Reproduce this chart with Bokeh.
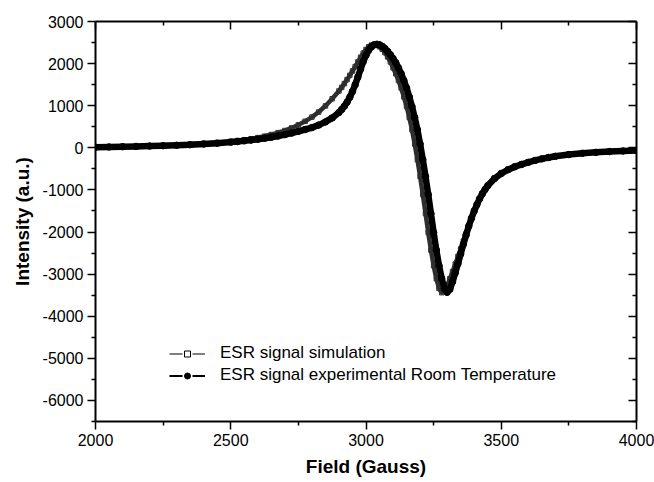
import numpy as np
from bokeh.plotting import figure
from bokeh.models import (Range1d, LinearAxis, FixedTicker, Legend, LegendItem,
                          ColumnDataSource, CustomJSTickFormatter)
from bokeh.embed import file_html
from bokeh.resources import INLINE

# ---------------- data ----------------
field = [2000, 2050, 2100, 2150, 2200, 2250, 2300, 2350, 2400, 2450, 2500,
         2525, 2550, 2575, 2600, 2625, 2650, 2675, 2700, 2725, 2750, 2775, 2800, 2825, 2850, 2875,
         2900, 2910, 2920, 2930, 2940, 2950, 2960, 2970, 2980, 2990,
         3000, 3010, 3020, 3030, 3040, 3050, 3060, 3070, 3080, 3090,
         3100, 3110, 3120, 3130, 3140, 3150, 3160, 3170, 3180, 3190,
         3200, 3210, 3220, 3230, 3240, 3250, 3260, 3270, 3280, 3290,
         3300, 3310, 3320, 3330, 3340, 3350, 3360, 3370, 3380, 3390,
         3400, 3410, 3420, 3430, 3440, 3450,
         3475, 3500, 3525, 3550, 3575, 3600, 3625, 3650, 3675, 3700,
         3750, 3800, 3850, 3900, 3950, 4000]

experimental = [15, 20, 26, 33, 41, 50, 61, 74, 90, 110, 135,
                149, 165, 183, 205, 228, 252, 280, 312, 350, 392, 435, 480, 540, 615, 710,
                840, 910, 990, 1085, 1200, 1340, 1500, 1680, 1870, 2050,
                2200, 2320, 2400, 2445, 2460, 2445, 2410, 2360, 2290, 2210,
                2120, 2020, 1900, 1760, 1600, 1420, 1210, 980, 720, 430,
                90, -280, -680, -1110, -1560, -2010, -2430, -2800, -3110, -3340,
                -3430, -3360, -3180, -2970, -2750, -2520, -2290, -2070, -1860, -1670,
                -1500, -1350, -1210, -1090, -990, -900,
                -730, -610, -520, -450, -395, -345, -300, -262, -230, -202,
                -160, -130, -108, -90, -75, -63]

simulation = [18, 24, 31, 39, 48, 59, 72, 87, 105, 127, 155,
              172, 192, 215, 242, 275, 315, 360, 410, 472, 545, 630, 730, 850, 995, 1165,
              1350, 1435, 1525, 1620, 1720, 1825, 1930, 2040, 2150, 2250,
              2335, 2400, 2440, 2455, 2440, 2400, 2340, 2260, 2160, 2040,
              1900, 1760, 1600, 1420, 1210, 980, 720, 430, 90, -280,
              -680, -1110, -1560, -2010, -2430, -2800, -3110, -3340, -3440, -3390,
              -3270, -3110, -2940, -2760, -2580, -2400, -2220, -2040, -1850, -1670,
              -1500, -1350, -1210, -1090, -990, -900,
              -720, -600, -510, -440, -385, -338, -295, -258, -226, -198,
              -157, -127, -105, -88, -73, -61]

x_ticks = [2000, 2500, 3000, 3500, 4000]
x_minor = [2250, 2750, 3250, 3750]
y_ticks = [-6000, -5000, -4000, -3000, -2000, -1000, 0, 1000, 2000, 3000]
y_minor = [-6500, -5500, -4500, -3500, -2500, -1500, -500, 500, 1500, 2500]

labels = ["ESR signal simulation", "ESR signal experimental Room Temperature"]
x_title = "Field (Gauss)"
y_title = "Intensity (a.u.)"

# ---------------- figure ----------------
FONT = "Liberation Sans"
p = figure(width=654, height=482, output_backend="svg", toolbar_location=None,
           x_range=Range1d(2000, 4000), y_range=Range1d(-6500, 3000),
           min_border_left=95, min_border_right=18, min_border_top=21, min_border_bottom=61,
           x_axis_label=x_title, y_axis_label=y_title)
p.grid.visible = False
p.outline_line_color = None
p.background_fill_color = "white"
p.border_fill_color = "white"

src = ColumnDataSource(data=dict(field=field, exp=experimental, sim=simulation))

# simulation (open squares, dense) - drawn first, peeks out beside the experimental band
p.line("field", "sim", source=src, line_width=4.5, line_color="#2e2e2e", line_join="round")
p.scatter("field", "sim", source=src, marker="square", size=4.5, fill_alpha=0,
          line_color="#2e2e2e", line_width=1)
# experimental (filled circles, dense)
p.line("field", "exp", source=src, line_width=6.5, line_color="black", line_join="round")
p.scatter("field", "exp", source=src, marker="circle", size=6.5, fill_color="black", line_color="black")

# legend-only renderers (single NaN point, never visible in the frame)
empty = ColumnDataSource(data=dict(x=np.array([np.nan]), y=np.array([np.nan])))
l_sim = p.line("x", "y", source=empty, line_width=1, line_color="black", line_dash="13 10")
m_sim = p.scatter("x", "y", source=empty, marker="square", size=5, fill_color="white",
                  line_color="black", line_width=1)
l_exp = p.line("x", "y", source=empty, line_width=1.8, line_color="black", line_dash="13 10")
m_exp = p.scatter("x", "y", source=empty, marker="circle", size=5, fill_color="black", line_color="black")

legend = Legend(items=[LegendItem(label=labels[0], renderers=[l_sim, m_sim]),
                       LegendItem(label=labels[1], renderers=[l_exp, m_exp])],
                location=(74, 36), padding=0, margin=0, spacing=2,
                glyph_height=15, glyph_width=36, label_height=15, label_standoff=15,
                label_text_font=FONT, label_text_font_size="17px", label_text_color="black",
                background_fill_alpha=0, border_line_alpha=0)
p.add_layout(legend)

# ---------------- axes ----------------
plain = CustomJSTickFormatter(code="return tick.toString()")

def style_main(ax, ticks, minor):
    ax.ticker = FixedTicker(ticks=ticks, minor_ticks=minor)
    ax.formatter = plain
    ax.axis_line_width = 2
    ax.axis_line_color = "black"
    ax.major_tick_line_width = 1.5
    ax.minor_tick_line_width = 1.5
    ax.major_tick_out = 8
    ax.major_tick_in = 0
    ax.minor_tick_out = 4
    ax.minor_tick_in = 0
    ax.major_label_text_font = FONT
    ax.major_label_text_font_size = "16px"
    ax.major_label_text_color = "black"
    ax.major_label_standoff = 4
    ax.axis_label_text_font = FONT
    ax.axis_label_text_font_size = "19px"
    ax.axis_label_text_font_style = "bold"
    ax.axis_label_text_color = "black"
    ax.axis_label_standoff = 7

style_main(p.xaxis[0], x_ticks, x_minor)
style_main(p.yaxis[0], y_ticks, y_minor)

def mirror(ticks, minor):
    ax = LinearAxis(ticker=FixedTicker(ticks=ticks, minor_ticks=minor),
                    formatter=CustomJSTickFormatter(code="return ''"))
    ax.axis_line_width = 2
    ax.major_tick_line_width = 1.5
    ax.minor_tick_line_width = 1.5
    ax.major_tick_out = 0
    ax.major_tick_in = 8
    ax.minor_tick_out = 0
    ax.minor_tick_in = 4
    ax.major_label_text_font_size = "0px"
    ax.major_label_standoff = 0
    return ax

p.add_layout(mirror(x_ticks, x_minor), "above")
p.add_layout(mirror(y_ticks, y_minor), "right")

open("out.html", "w").write(file_html(p, INLINE))
